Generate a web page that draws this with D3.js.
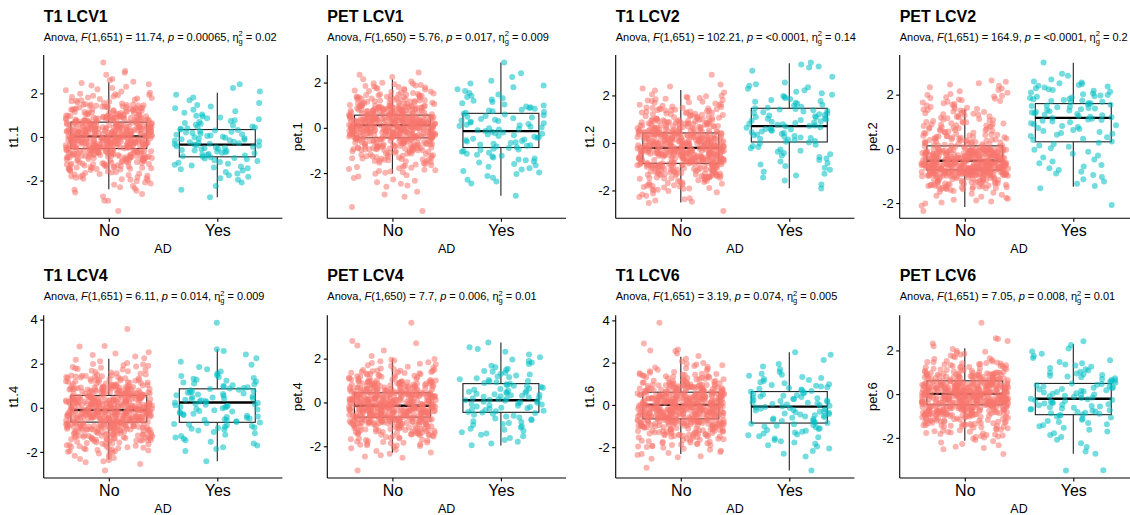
<!DOCTYPE html>
<html>
<head>
<meta charset="utf-8">
<script src="https://cdn.jsdelivr.net/npm/d3@7"></script>
<style>
  body { margin: 0; background: #fff; }
  text { font-family: "Liberation Sans", Arial, Helvetica, sans-serif; fill: #000; }
</style>
</head>
<body>
<div id="chart"></div>
<script>
// panel titles and anova annotations
var titles = ["T1 LCV1", "PET LCV1", "T1 LCV2", "PET LCV2", "T1 LCV4", "PET LCV4", "T1 LCV6", "PET LCV6"];
var yTitles = ["t1.1", "pet.1", "t1.2", "pet.2", "t1.4", "pet.4", "t1.6", "pet.6"];
var dfDen = [651, 650, 651, 651, 651, 650, 651, 651];
var fVals = ["11.74", "5.76", "102.21", "164.9", "6.11", "7.7", "3.19", "7.05"];
var pVals = ["0.00065", "0.017", "<0.0001", "<0.0001", "0.014", "0.006", "0.074", "0.008"];
var etaVals = ["0.02", "0.009", "0.14", "0.2", "0.009", "0.01", "0.005", "0.01"];
var groups = ["No", "Yes"];
var yTicks = [[-2, 0, 2], [-2, 0, 2], [-2, 0, 2], [-2, 0, 2], [-2, 0, 2, 4], [-2, 0, 2], [-2, 0, 2, 4], [-2, 0, 2]];

// box stats: [lower whisker, q1, median, q3, upper whisker]
var boxNo = [
  [-2.4, -0.53, 0.03, 0.68, 2.51],
  [-2.02, -0.44, 0.12, 0.56, 2.14],
  [-2.51, -0.86, -0.21, 0.42, 2.23],
  [-2.15, -0.78, -0.44, 0.11, 1.45],
  [-2.35, -0.65, -0.1, 0.56, 2.22],
  [-2.3, -0.67, -0.15, 0.44, 1.98],
  [-2.33, -0.66, 0.0, 0.6, 2.28],
  [-2.13, -0.49, 0.01, 0.61, 2.1]
];
var boxYes = [
  [-2.77, -0.91, -0.35, 0.34, 2.03],
  [-3.0, -0.87, -0.15, 0.64, 2.89],
  [-1.91, 0.04, 0.71, 1.46, 3.36],
  [-1.4, 0.26, 1.14, 1.67, 3.18],
  [-2.43, -0.66, 0.24, 0.86, 2.66],
  [-1.97, -0.45, 0.1, 0.86, 2.74],
  [-3.11, -0.86, -0.08, 0.63, 2.49],
  [-2.73, -0.94, -0.21, 0.49, 2.3]
];

// point counts per 0.5-wide bin, from -2.5 to 2.5
var binStart = -2.5, binWidth = 0.5;
var binsNo = [
  [9, 22, 46, 80, 110, 108, 80, 48, 20, 9],
  [8, 18, 36, 68, 118, 132, 86, 44, 22, 5],
  [10, 26, 58, 100, 118, 100, 66, 38, 20, 6],
  [0, 14, 60, 189, 140, 50, 34, 26, 18, 10],
  [10, 28, 56, 88, 112, 104, 76, 40, 18, 7],
  [8, 24, 52, 100, 124, 108, 72, 34, 14, 2],
  [10, 26, 52, 92, 118, 110, 76, 36, 14, 4],
  [8, 22, 46, 92, 130, 124, 70, 32, 12, 4]
];
var binsYes = [
  [3, 7, 12, 19, 22, 18, 12, 7, 4, 3],
  [6, 8, 12, 16, 16, 16, 14, 9, 6, 3],
  [0, 3, 6, 8, 10, 16, 20, 18, 12, 8],
  [0, 0, 6, 8, 7, 10, 14, 20, 22, 16],
  [0, 6, 8, 16, 16, 20, 18, 12, 5, 3],
  [0, 6, 9, 12, 18, 22, 16, 12, 7, 4],
  [4, 8, 12, 16, 18, 18, 14, 10, 4, 2],
  [3, 6, 10, 18, 18, 18, 14, 9, 5, 3]
];
// single points
var tailsNo = [
  [3.42, 3.03, 2.95, 2.85, 2.66, 2.6, 2.53, -2.55, -2.62, -2.73, -2.92, -2.93, -3.39],
  [-2.55, -2.6, -2.83, -2.95, -3.05, -3.5, -3.67],
  [2.87, -2.53, -2.86],
  [2.52, -2.02, -2.1, -2.29],
  [3.57, 2.8, 2.78, 2.52, -2.55, -2.85],
  [3.64, 2.8, 2.7, 2.6, -2.52, -3.11],
  [3.89, 2.91, 2.62, 2.58, 2.55, -2.55, -2.98],
  [3.27, 2.56, 2.52, -2.52, -2.74]
];
var tailsYes = [
  [-2.77],
  [2.89, -3.0],
  [3.39, 3.3, 3.22, 3.18, 3.04, 2.79, 2.55],
  [3.19, 2.77, 2.7, 2.56, -2.07],
  [3.86, 2.66, 2.58, -2.43],
  [2.74, 2.52],
  [-3.11, 2.49],
  [-3.5, -3.48, -2.73, -2.62]
];

var colors = {No: "#F8766D", Yes: "#00BFC4"};

// layout
var width = 1130, height = 515;
var colAxisX = [43.7, 327.3, 615.7, 899.7];
var colYTitleX = [13.5, 297.2, 589.8, 872];
var rowTop = [55, 315.3], rowBottom = [218.3, 478];
var rowTitleY = [21.5, 281], rowSubY = [40.7, 300.2];
var axisW = 238.7;

var svg = d3.select("#chart").append("svg")
  .attr("width", width)
  .attr("height", height);

// deterministic horizontal jitter
function jit(i, seed) {
  var s = Math.sin(i * 127.1 + seed * 311.7) * 43758.5453;
  return s - Math.floor(s);
}

function expandPoints(bins, tails) {
  var vals = [];
  bins.forEach(function(n, b) {
    var lo = binStart + b * binWidth;
    for (var k = 0; k < n; k++) vals.push(lo + (k + 0.5) / n * binWidth);
  });
  return vals.concat(tails);
}

titles.forEach(function(title, p) {
  var col = p % 4, row = Math.floor(p / 4);
  var ax = colAxisX[col];
  var g = svg.append("g");

  var data = {No: expandPoints(binsNo[p], tailsNo[p]), Yes: expandPoints(binsYes[p], tailsYes[p])};
  var ext = d3.extent(data.No.concat(data.Yes));
  var pad = (ext[1] - ext[0]) * 0.05;

  var x = d3.scalePoint().domain(groups).range([ax, ax + axisW]).padding(0.6);
  var y = d3.scaleLinear().domain([ext[0] - pad, ext[1] + pad]).range([rowBottom[row], rowTop[row]]);
  var unit = x.step();

  // boxes
  groups.forEach(function(grp, gi) {
    var b = grp === "No" ? boxNo[p] : boxYes[p];
    var cx = x(grp), hw = unit * 0.35;
    g.append("line").attr("x1", cx).attr("x2", cx).attr("y1", y(b[3])).attr("y2", y(b[4]))
      .attr("stroke", "#222").attr("stroke-width", 1.1);
    g.append("line").attr("x1", cx).attr("x2", cx).attr("y1", y(b[1])).attr("y2", y(b[0]))
      .attr("stroke", "#222").attr("stroke-width", 1.1);
    g.append("rect").attr("x", cx - hw).attr("width", hw * 2)
      .attr("y", y(b[3])).attr("height", y(b[1]) - y(b[3]))
      .attr("fill", "#fff").attr("stroke", "#222").attr("stroke-width", 1.1);
    g.append("line").attr("x1", cx - hw).attr("x2", cx + hw).attr("y1", y(b[2])).attr("y2", y(b[2]))
      .attr("stroke", "#000").attr("stroke-width", 2.3);
  });

  // jittered points
  groups.forEach(function(grp, gi) {
    g.append("g").selectAll("circle")
      .data(data[grp])
      .enter()
      .append("circle")
      .attr("cx", function(d, i) { return x(grp) + (jit(i, p * 2 + gi + 1) * 2 - 1) * 0.4 * unit; })
      .attr("cy", function(d) { return y(d); })
      .attr("r", 3)
      .attr("fill", colors[grp])
      .attr("fill-opacity", 0.55);
  });

  // axes
  var yAxis = g.append("g").attr("transform", "translate(" + ax + ",0)")
    .call(d3.axisLeft(y).tickValues(yTicks[p]).tickSize(3.5).tickPadding(2.5).tickFormat(d3.format("d")));
  yAxis.select(".domain").attr("d", "M0," + y.range()[0] + "V" + y.range()[1]).attr("stroke", "#000").attr("stroke-width", 1.1);
  yAxis.selectAll(".tick line").attr("stroke", "#000").attr("stroke-width", 1.1);
  yAxis.selectAll(".tick text").attr("font-size", "13px").attr("font-family", null).attr("fill", "#000")
    .text(function(d) { return d < 0 ? "-" + Math.abs(d) : d; });

  var xAxis = g.append("g").attr("transform", "translate(0," + rowBottom[row] + ")")
    .call(d3.axisBottom(x).tickSize(3.5).tickPadding(3));
  xAxis.select(".domain").attr("d", "M" + ax + ",0H" + (ax + axisW)).attr("stroke", "#000").attr("stroke-width", 1.1);
  xAxis.selectAll(".tick line").attr("stroke", "#000").attr("stroke-width", 1.1);
  xAxis.selectAll(".tick text").attr("font-size", "16px").attr("font-family", null).attr("fill", "#000");

  g.append("text").attr("x", ax + axisW / 2).attr("y", rowBottom[row] + 34.5)
    .attr("text-anchor", "middle").attr("font-size", "12.5px").text("AD");

  g.append("text")
    .attr("transform", "translate(" + (colYTitleX[col] + 4.5) + "," + ((rowTop[row] + rowBottom[row]) / 2) + ") rotate(-90)")
    .attr("text-anchor", "middle").attr("font-size", "13px").text(yTitles[p]);

  // title and subtitle
  g.append("text").attr("x", ax).attr("y", rowTitleY[row])
    .attr("font-size", "16px").attr("font-weight", "bold").text(title);

  var sub = g.append("text").attr("x", ax).attr("y", rowSubY[row]).attr("font-size", "11px");
  sub.append("tspan").text("Anova, ");
  sub.append("tspan").attr("font-style", "italic").text("F");
  sub.append("tspan").text("(1," + dfDen[p] + ") = " + fVals[p] + ", ");
  sub.append("tspan").attr("font-style", "italic").text("p");
  sub.append("tspan").text(" = " + pVals[p] + ", \u03B7");
  sub.append("tspan").attr("font-size", "7.5px").attr("dy", 3).text("g");
  sub.append("tspan").attr("font-size", "7.5px").attr("dx", -4.2).attr("dy", -7.5).text("2");
  sub.append("tspan").attr("dy", 4.5).text(" = " + etaVals[p]);
});
</script>
</body>
</html>
